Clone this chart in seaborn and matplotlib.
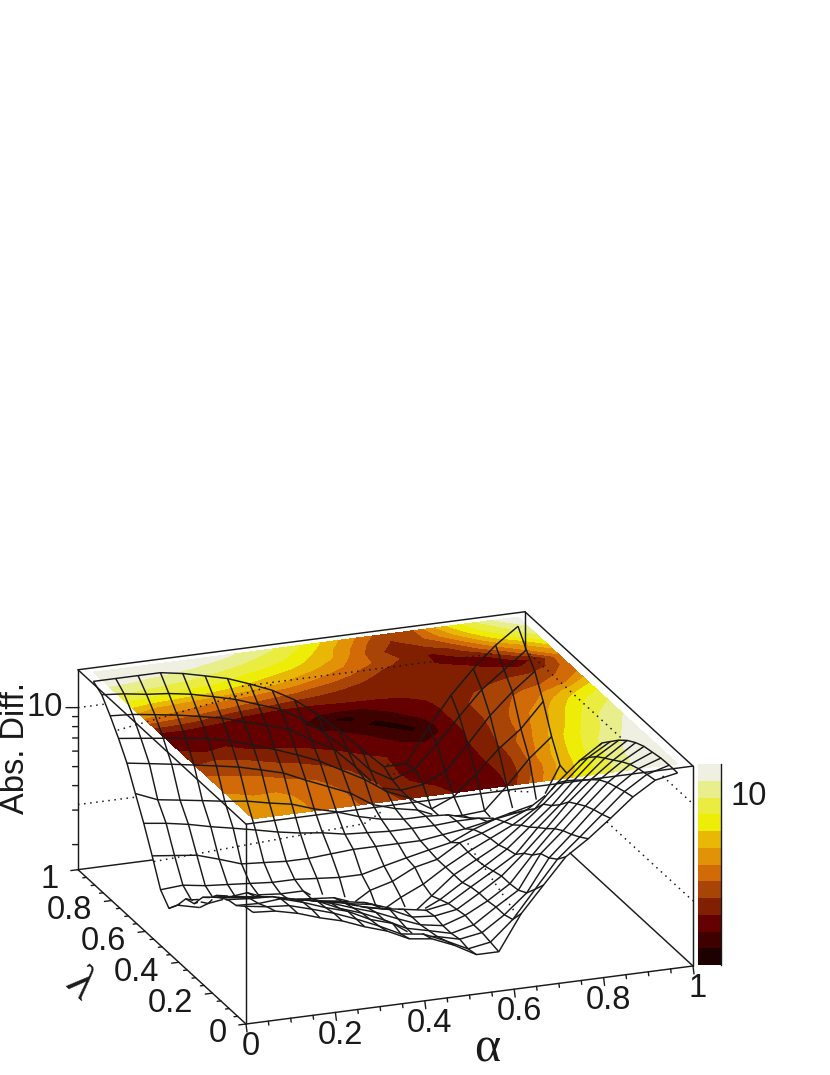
import numpy as np
import matplotlib
matplotlib.use("Agg")
import matplotlib.pyplot as plt
import seaborn as sns
from mpl_toolkits.mplot3d import proj3d
from mpl_toolkits.mplot3d.art3d import Line3DCollection

# bin centres of the scan
alpha_centers = [.025, .075, .125, .175, .225, .275, .325, .375, .425, .475,
                 .525, .575, .625, .675, .725, .775, .825, .875, .925, .975]
lambda_centers = [.975, .925, .875, .825, .775, .725, .675, .625, .575, .525,
                  .475, .425, .375, .325, .275, .225, .175, .125, .075, .025]

# one row per lambda, columns follow alpha_centers
abs_diff = [
    [14.0, 14.0, 14.0, 14.0, 13.4, 12.6, 11.8, 10.7, 9.6, 8.3, 6.8, 5.4, 4.2, 3.3, 3.3, 4.9, 6.9, 9.1, 11.6, 14.0],
    [13.1, 12.8, 12.3, 12.0, 11.5, 10.8, 10.1, 9.2, 8.4, 7.2, 5.9, 4.7, 3.6, 3.1, 3.4, 4.4, 5.9, 7.8, 9.5, 11.6],
    [11.2, 11.0, 10.6, 10.2, 9.7, 9.2, 8.5, 7.9, 7.3, 6.2, 5.4, 4.2, 3.2, 3.0, 3.1, 3.5, 4.65, 6.3, 8.05, 9.9],
    [9.4, 9.1, 8.8, 8.5, 8.2, 7.7, 7.1, 6.5, 5.9, 5.3, 4.6, 4.0, 3.35, 3.0, 2.55, 2.85, 3.6, 4.65, 5.7, 7.6],
    [7.7, 7.4, 7.1, 6.8, 6.5, 6.2, 5.8, 5.4, 4.8, 4.3, 3.85, 3.25, 3.0, 2.85, 2.55, 2.5, 2.55, 3.3, 4.4, 5.5],
    [5.9, 5.3, 5.1, 4.9, 4.7, 4.55, 4.3, 4.1, 3.75, 3.5, 3.2, 3.0, 2.9, 2.9, 2.85, 2.65, 2.5, 2.45, 2.7, 4.3],
    [4.55, 4.4, 4.2, 3.95, 3.75, 3.55, 3.35, 3.2, 3.1, 2.95, 2.9, 2.85, 2.85, 2.85, 2.9, 2.9, 2.8, 2.7, 3.15, 4.2],
    [3.4, 3.3, 3.2, 2.95, 2.7, 2.65, 2.6, 2.6, 2.65, 2.7, 2.7, 2.7, 2.7, 2.8, 2.9, 3.05, 3.25, 3.45, 3.75, 4.5],
    [2.5, 2.55, 2.45, 2.4, 2.35, 2.3, 2.3, 2.25, 2.2, 2.2, 2.35, 2.5, 2.65, 2.8, 3.15, 3.45, 3.6, 3.8, 4.3, 5.8],
    [2.2, 2.35, 2.3, 2.25, 2.25, 2.2, 2.2, 1.85, 1.7, 2.0, 2.15, 2.45, 2.6, 3.05, 3.3, 3.65, 4.05, 4.8, 6.0, 7.3],
    [2.5, 2.35, 2.5, 2.35, 2.3, 2.25, 2.2, 2.15, 1.95, 1.68, 1.95, 2.2, 2.6, 3.0, 3.4, 3.85, 4.5, 5.9, 7.4, 8.8],
    [2.95, 2.7, 2.8, 2.55, 2.5, 2.4, 2.35, 2.25, 2.15, 1.95, 1.7, 2.1, 2.6, 3.0, 3.45, 4.2, 5.2, 6.6, 8.4, 9.8],
    [3.05, 3.25, 3.1, 2.95, 2.8, 2.7, 2.5, 2.4, 2.3, 2.1, 1.95, 2.2, 2.6, 3.05, 3.6, 4.5, 5.6, 7.3, 9.3, 10.9],
    [3.6, 3.45, 3.55, 3.2, 3.05, 2.9, 2.8, 2.55, 2.4, 2.3, 2.2, 2.3, 2.7, 3.15, 3.7, 4.9, 6.2, 8.0, 10.0, 11.9],
    [3.95, 3.85, 3.7, 3.55, 3.35, 3.15, 3.0, 2.75, 2.6, 2.3, 2.25, 2.35, 2.75, 3.25, 4.1, 5.3, 7.0, 8.8, 10.7, 12.7],
    [4.3, 4.15, 4.05, 3.8, 3.65, 3.4, 3.1, 2.85, 2.55, 2.3, 2.2, 2.4, 2.75, 3.25, 4.4, 5.8, 7.5, 9.6, 11.5, 13.3],
    [4.6, 4.5, 4.45, 4.15, 3.95, 3.5, 3.2, 2.85, 2.5, 2.35, 2.2, 2.35, 2.8, 3.3, 4.9, 6.2, 8.0, 10.2, 12.2, 13.6],
    [4.7, 4.65, 4.75, 4.4, 4.0, 3.7, 3.25, 3.0, 2.5, 2.4, 2.25, 2.35, 2.8, 3.5, 5.1, 6.5, 8.4, 10.6, 12.7, 13.9],
    [5.1, 4.9, 4.8, 4.45, 4.1, 3.7, 3.3, 2.9, 2.8, 2.5, 2.2, 2.3, 2.9, 4.0, 5.5, 6.9, 8.7, 11.0, 13.0, 14.0],
    [5.2, 5.1, 4.8, 4.4, 4.1, 3.7, 3.4, 3.0, 2.9, 2.6, 2.25, 2.25, 3.4, 4.6, 6.2, 7.4, 9.1, 11.3, 13.3, 14.0],
]

band_colors = ['#1f0000', '#3f0000', '#650000', '#802000', '#a84405', '#d26a07',
               '#e29207', '#e9b806', '#eeed08', '#eaec40', '#e8ee8c', '#f0f0e2']
tick_values = [0, .2, .4, .6, .8, 1]
tick_labels = ['0', '0.2', '0.4', '0.6', '0.8', '1']
minor_z = [2, 3, 4, 5, 6, 7, 8, 9]
grid_z = [10, 3.2]
# stray dotted guides of the original (alpha, lambda, abs diff)
guides = [
    ([-.051, .324, .355], [.628, .758, .778], [15.6, 15.6, 15.6]),
    ([.166, .659, .728], [.99, 1.05, 1.114], [1.49, 1.49, 1.49]),
    ([.82, .763], [.862, .415], [1.49, 1.49]),
    ([.383, .438, .503], [.178, .17, .063], [15.6, 15.6, 15.6]),
    ([.551, .631], [.013, -.029], [15.6, 15.6]),
]

Z_LOW, Z_HIGH = np.log10(1.49), np.log10(15.6)
BAR_LOW, BAR_HIGH = np.log10(1.51), np.log10(13.8)
ELEV, AZIM = 20.2, -110.6
Z_ASPECT = 0.446

sns.set_theme(style="white")
plt.rcParams['font.family'] = ['Liberation Sans', 'DejaVu Sans']

log_z = np.log10(np.array(abs_diff))
lam_up = np.array(lambda_centers)[::-1]
log_up = log_z[::-1]
alpha_arr = np.array(alpha_centers)

# sight line towards the viewer, in data units
cam = np.array([np.cos(np.radians(ELEV)) * np.cos(np.radians(AZIM)),
                np.cos(np.radians(ELEV)) * np.sin(np.radians(AZIM)),
                np.sin(np.radians(ELEV))])
ray = cam / abs(cam[1]) * np.array([1, 1, (Z_HIGH - Z_LOW) / Z_ASPECT])
steps = np.arange(.012, 1.6, .012)


def surface_height(a, l):
    fa = np.interp(a, alpha_arr, np.arange(20))
    fl = np.interp(l, lam_up, np.arange(20))
    i = np.clip(fa.astype(int), 0, 18)
    j = np.clip(fl.astype(int), 0, 18)
    ta, tl = fa - i, fl - j
    return (log_up[j, i] * (1 - ta) * (1 - tl) + log_up[j, i + 1] * ta * (1 - tl)
            + log_up[j + 1, i] * (1 - ta) * tl + log_up[j + 1, i + 1] * ta * tl)


def visible_runs(a, l, h):
    # hidden line removal: a point is lost if its sight line crosses the sheet
    a_ray = a[:, None] + ray[0] * steps
    l_ray = l[:, None] + ray[1] * steps
    h_ray = h[:, None] + ray[2] * steps
    inside = (a_ray >= alpha_arr[0]) & (a_ray <= alpha_arr[-1]) & (l_ray >= lam_up[0]) & (l_ray <= lam_up[-1])
    gap = surface_height(a_ray, l_ray) - h_ray
    both = inside[:, 1:] & inside[:, :-1]
    crossed = (np.sign(gap[:, 1:] - .002) != np.sign(gap[:, :-1] - .002)) & both
    hidden = crossed.any(axis=1)
    runs, current = [], []
    for k in range(len(a)):
        if hidden[k]:
            if len(current) > 1:
                runs.append(np.array(current))
            current = []
        else:
            current.append((a[k], l[k], h[k]))
    if len(current) > 1:
        runs.append(np.array(current))
    return runs


def fine(values, n=6):
    values = np.asarray(values, dtype=float)
    idx = np.arange(len(values))
    return np.interp(np.linspace(0, len(values) - 1, (len(values) - 1) * n + 1), idx, values)


fig = plt.figure(figsize=(8.3, 10.75), dpi=100)
ax = fig.add_axes([0.1, 0.0, 0.8, 0.8 * 830 / 1075], projection='3d', proj_type='ortho', computed_zorder=False)
ax.view_init(elev=ELEV, azim=AZIM)
ax.set_box_aspect((1, 1, Z_ASPECT))
ax.set_axis_off()
ax.patch.set_alpha(0)

# colour map on the roof of the box
A, L = np.meshgrid(alpha_arr, lam_up)
levels = np.linspace(BAR_LOW, BAR_HIGH, 13)
levels[-1] = log_up.max() + .01
levels[0] = min(levels[0], log_up.min() - .01)
cs = ax.contourf(A, L, log_up, levels=levels, colors=band_colors, zdir='z', offset=Z_HIGH)
cs.set_zorder(1)

# dotted grid on the back walls
for value in grid_z:
    h = np.log10(value)
    a1, l1 = np.linspace(0, 1, 200), np.ones(200)
    a2, l2 = np.ones(200), np.linspace(1, 0, 200)
    for aa, ll in ((a1, l1), (a2, l2)):
        for run in visible_runs(aa, ll, np.full(200, h)):
            ax.plot(run[:, 0], run[:, 1], run[:, 2], color='k', lw=1.1, ls=(0, (1, 3)), zorder=2)
for ga, gl, gz in guides:
    ax.plot(ga, gl, np.log10(gz), color='k', lw=1.1, ls=(0, (1, 3)), zorder=2)

# back edges of the box, hidden behind the surface
back_edges = [(np.linspace(0, 1, 300), np.ones(300), np.full(300, Z_LOW)),
              (np.ones(300), np.linspace(1, 0, 300), np.full(300, Z_LOW)),
              (np.ones(300), np.ones(300), np.linspace(Z_HIGH, Z_LOW, 300))]
for aa, ll, hh in back_edges:
    for run in visible_runs(aa, ll, hh):
        ax.plot(run[:, 0], run[:, 1], run[:, 2], color='k', lw=1.05, zorder=3)

# wire mesh
segments = []
for i in range(20):
    segments += visible_runs(np.full(115, alpha_arr[i]), fine(lam_up), fine(log_up[:, i]))
    segments += visible_runs(fine(alpha_arr), np.full(115, lam_up[i]), fine(log_up[i, :]))
mesh = Line3DCollection(segments, colors='k', linewidths=1.05, zorder=4)
ax.add_collection3d(mesh, autolim=False)

# front and roof edges of the box
box_lines = [((0, 1), (0, 0), (Z_LOW, Z_LOW)), ((0, 0), (0, 1), (Z_LOW, Z_LOW)),
             ((0, 1), (0, 0), (Z_HIGH, Z_HIGH)), ((0, 0), (0, 1), (Z_HIGH, Z_HIGH)),
             ((0, 1), (1, 1), (Z_HIGH, Z_HIGH)), ((1, 1), (0, 1), (Z_HIGH, Z_HIGH)),
             ((0, 0), (0, 0), (Z_LOW, Z_HIGH)), ((0, 0), (1, 1), (Z_LOW, Z_HIGH)),
             ((1, 1), (0, 0), (Z_LOW, Z_HIGH))]
for xs, ys, zs in box_lines:
    ax.plot(xs, ys, zs, color='k', lw=1.05, zorder=5)

# axis ticks
for k in range(21):
    t = k * .05
    major = k % 4 == 0
    size = 1 if major else .5
    ax.plot([t, t - .015 * size], [0, -.0457 * size], [Z_LOW, Z_LOW], color='k', lw=1.0, zorder=5)
    ax.plot([0, -.016 * size], [t, t], [Z_LOW, Z_LOW], color='k', lw=1.0, zorder=5)
for value in minor_z + [10]:
    size = 1 if value == 10 else .45
    h = np.log10(value)
    ax.plot([0, -.0235 * size], [1, 1 + .00875 * size], [h, h], color='k', lw=1.0, zorder=5)

ax.set_xlim(0, 1)
ax.set_ylim(0, 1)
ax.set_zlim(Z_LOW, Z_HIGH)


def to_display(a, l, h):
    xs, ys, _ = proj3d.proj_transform(a, l, h, ax.get_proj())
    return ax.transData.transform((xs, ys))


# slide the square axes so the front corner lands where the picture has it
for _ in range(4):
    fig.canvas.draw()
    p0 = to_display(0, 0, Z_LOW)
    p1 = to_display(1, 0, Z_LOW)
    pos = ax.get_position()
    scale = 447 / (p1[0] - p0[0])
    ax.set_position([pos.x0, pos.y0, pos.width * scale, pos.height * scale])
    fig.canvas.draw()
    p0 = to_display(0, 0, Z_LOW)
    pos = ax.get_position()
    ax.set_position([pos.x0 + (246 - p0[0]) / 830, pos.y0 + (51 - p0[1]) / 1075, pos.width, pos.height])
fig.canvas.draw()


def label_at(a, l, h, text, ha):
    x, y = to_display(a, l, h)
    fig.text(x / 830, y / 1075, text, fontsize=23.5, ha=ha, va='center', color='k')


for t, label in zip(tick_values, tick_labels):
    label_at(t - .039, -.133, Z_LOW, label, 'center')
    label_at(-.0585, t - .042, Z_LOW, label, 'right')
label_at(-.0294, 1.0109, 1.0, '10', 'right')

# palette strip
cax = fig.add_axes([698 / 830, 1 - 965 / 1075, 23 / 830, 201 / 1075])
palette = sns.color_palette(band_colors)
sns.heatmap(np.arange(12, 0, -1).reshape(-1, 1), cmap=palette, cbar=False, ax=cax,
            xticklabels=False, yticklabels=False)
bar_step = (BAR_HIGH - BAR_LOW) / 12
cax.set_yticks([(BAR_HIGH - 1.0) / bar_step])
cax.set_yticklabels(['10'], fontsize=23.5, color='k')
cax.set_yticks([(BAR_HIGH - np.log10(v)) / bar_step for v in minor_z], minor=True)
cax.yaxis.tick_right()
cax.tick_params(axis='y', which='major', direction='in', length=8.5, width=1.0, color='k', pad=7, right=True, left=False)
cax.tick_params(axis='y', which='minor', direction='in', length=4.5, width=1.0, color='k', right=True, left=False)
cax.spines['right'].set_visible(True)
cax.spines['right'].set_color('k')
cax.spines['right'].set_linewidth(1.0)

fig.text(16 / 830, 1 - 748 / 1075, 'Abs. Diff.', fontsize=23.5, rotation=90, ha='center', va='center', color='k')
fig.text(487 / 830, 1 - 1073 / 1075, 'α', fontsize=36, family=['Liberation Serif', 'DejaVu Sans'], ha='center', va='bottom', color='k')
fig.text(80 / 830, 1 - 986 / 1075, 'λ', fontsize=34, family=['Liberation Serif', 'DejaVu Sans'], rotation=-43, ha='center', va='center', color='k')

fig.savefig('out.png', dpi=100)
